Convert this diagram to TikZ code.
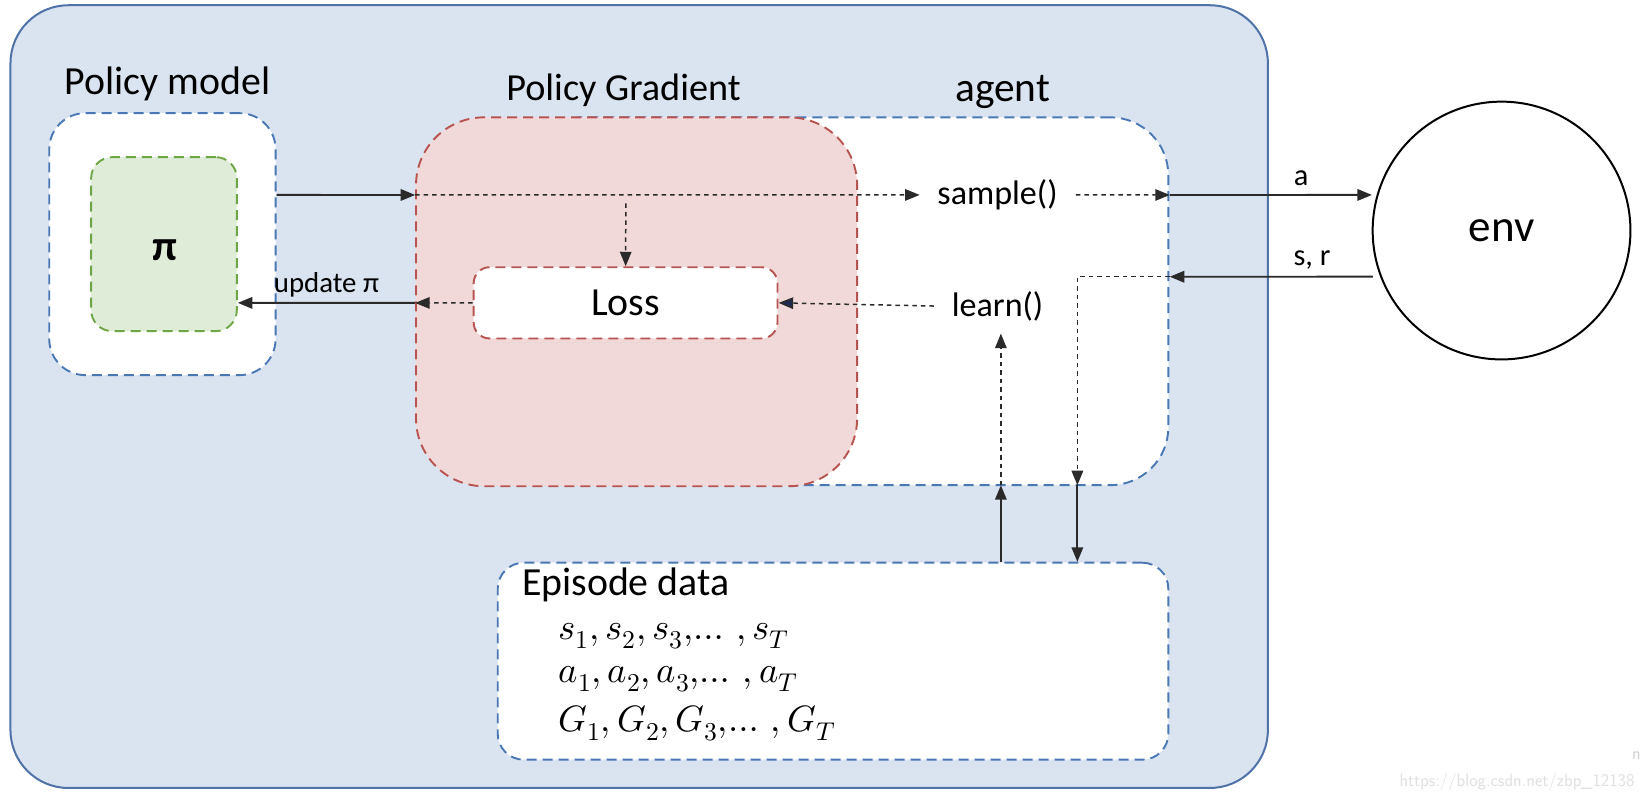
\documentclass[tikz,border=0pt]{standalone}
\usepackage{fontspec}
\usepackage{unicode-math}
\setmainfont{Carlito}
\setmathfont{Latin Modern Math}
\usetikzlibrary{arrows.meta,calc}
\definecolor{outerfill}{HTML}{DAE3F0}
\definecolor{outerline}{HTML}{4F72A8}
\definecolor{bluedash}{HTML}{4A78B5}
\definecolor{redfill}{HTML}{F2D9D9}
\definecolor{redline}{HTML}{B85450}
\definecolor{greenfill}{HTML}{DFEDD8}
\definecolor{greenline}{HTML}{6EA646}
\definecolor{arrowcol}{HTML}{2A2A2A}
\definecolor{navy}{HTML}{1F2A55}
\tikzset{
  box/.style={inner sep=0pt, line width=1.9pt, dash pattern=on 10pt off 6pt},
  bluebox/.style={box, draw=bluedash, fill=white},
  lbl/.style={text=black, inner sep=0pt},
  fn/.style={font=\fontsize{32.5}{38}\selectfont, inner xsep=17pt, inner ysep=12pt},
  tip/.style={-{Triangle[length=14.5pt,width=11.5pt]}},
  solidarr/.style={tip, draw=arrowcol, line width=1.9pt},
  dasharr/.style={tip, draw=arrowcol, line width=1.5pt, dash pattern=on 4.5pt off 4pt},
  mathline/.style={anchor=west, inner sep=0pt, font=\fontsize{35}{42}\selectfont},
}
\begin{document}
\begin{tikzpicture}[x=1pt,y=-1pt,scale=1.04783,every node/.append style={transform shape}]
\useasboundingbox (0,0) rectangle (1568,765.4);
\fill[white] (0,0) rectangle (1568,765.4);
% outer container
\node[draw=outerline, fill=outerfill, line width=2pt, rounded corners=58pt, inner sep=0pt,
      minimum width=1200pt, minimum height=747pt] (outer) at (610,378.5) {};
% policy model
\node[bluebox, rounded corners=36pt, minimum width=216pt, minimum height=250pt] (pm) at (155,233) {};
\node[box, draw=greenline, fill=greenfill, rounded corners=21pt, minimum width=139pt, minimum height=166pt] (pi) at (156.5,233) {};
\node[lbl, font=\fontsize{41}{48}\selectfont\bfseries] (pitext) at (157,239) {π};
\node[lbl, font=\fontsize{38}{44}\selectfont] (pmlbl) at (160,80) {Policy model};
% agent
\node[bluebox, rounded corners=58pt, minimum width=615pt, minimum height=351pt] (agent) at (807.5,287.5) {};
\node[lbl, font=\fontsize{39.5}{46}\selectfont] (agentlbl) at (957,88) {agent};
% policy gradient
\node[box, draw=redline, fill=redfill, rounded corners=68pt, minimum width=421pt, minimum height=352pt] (pg) at (607.5,288) {};
\node[lbl, font=\fontsize{36.5}{43}\selectfont] (pglbl) at (595,86) {Policy Gradient};
\node[box, draw=redline, fill=white, rounded corners=16pt, minimum width=290pt, minimum height=68pt,
      font=\fontsize{38}{44}\selectfont] (loss) at (597,289) {Loss};
% functions
\node[fn] (sample) at (952,186) {sample()};
\node[fn] (learn) at (952,292) {learn()};
% env
\node[draw=black, line width=2pt, circle, minimum size=246pt, inner sep=0pt,
      font=\fontsize{43}{50}\selectfont] (env) at (1433,220) {env};
% episode data
\node[bluebox, rounded corners=26pt, minimum width=640pt, minimum height=188pt] (ep) at (795,631) {};
\node[lbl, font=\fontsize{38}{44}\selectfont, anchor=west] (eplbl) at (498,558) {Episode data};
\node[mathline] (sline) at (533,607) {$s_1, s_2, s_3,\!\ldots\,, s_T$};
\node[mathline] (aline) at (533,648) {$a_1, a_2, a_3,\!\ldots\,, a_T$};
\node[mathline] (gline) at (533,690) {$G_1, G_2, G_3,\!\ldots\,, G_T$};
% coordinates
\coordinate (pgin) at (pg.west |- sample);
\coordinate (agout) at (agent.east |- sample);
\coordinate (envin) at (1310,264);
\coordinate (agin) at (agent.east |- envin);
\coordinate (downpt) at (1028,463);
\coordinate (uppt) at (955,463);
\coordinate (pgout) at (pg.west |- loss);
\coordinate (gsrc) at ($(loss.north)+(0,-60)$);
% connectors
\draw[solidarr] (pm.east |- sample) -- (pgin);
\draw[dasharr] (pgin) -- (sample.west);
\draw[dasharr] (sample.east) -- (agout);
\draw[solidarr] (agout) -- node[pos=0.65, above=5pt, font=\fontsize{29}{34}\selectfont, text=black] (alab) {a} (env.west |- sample);
\draw[solidarr] (envin) -- node[pos=0.3, above=3pt, font=\fontsize{29}{34}\selectfont, text=black] (srlab) {s, r} (agin);
\draw[dasharr] (agin) -| (downpt);
\draw[solidarr] (downpt) -- (downpt |- ep.north);
\draw[solidarr] (uppt |- ep.north) -- (uppt);
\draw[dasharr] (uppt) -- (uppt |- learn.south);
\draw[dasharr, -{Triangle[length=14.5pt,width=11.5pt,fill=navy]}] (learn.west) -- (loss.east);
\draw[dasharr] (loss.west) -- (pgout);
\draw[solidarr] (pgout) -- node[above=1pt, font=\fontsize{27.5}{32}\selectfont, text=black] (uplab) {update π} (pi.east |- loss);
\draw[dasharr] (gsrc) -- (loss.north);
% watermark
\node[text=black!12, font=\fontsize{17}{20}\selectfont\sffamily, anchor=east, inner sep=0pt] (wm) at (1560,746) {https://blog.csdn.net/zbp\_12138};
\node[text=black!18, font=\fontsize{17}{20}\selectfont\sffamily, anchor=east, inner sep=0pt] (wmn) at (1566,721) {n};
\end{tikzpicture}
\end{document}
